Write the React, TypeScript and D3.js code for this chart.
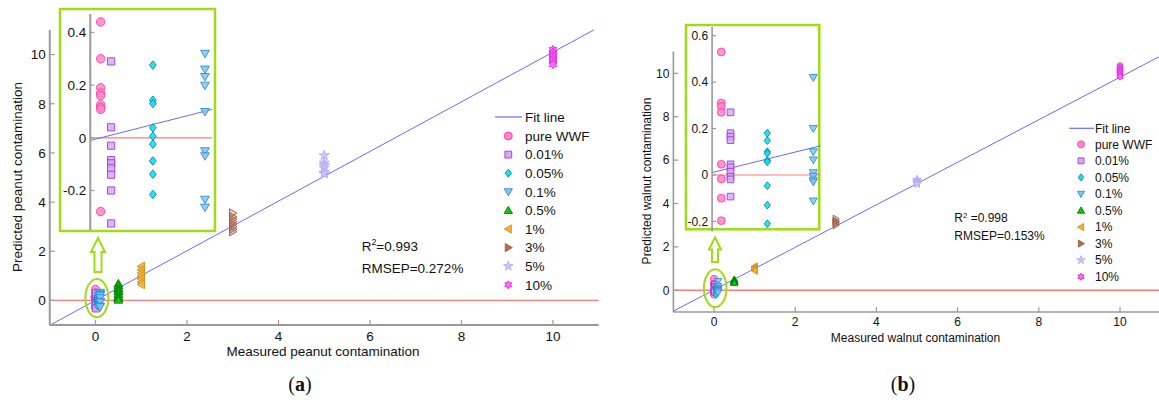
import React from 'react';
import * as d3 from 'd3';

// concentration levels and legend names
const levels = [0, 0.01, 0.05, 0.1, 0.5, 1, 3, 5, 10];
const seriesNames = ['pure WWF', '0.01%', '0.05%', '0.1%', '0.5%', '1%', '3%', '5%', '10%'];

// (a) predicted peanut contamination
const peanutPure = [0.44, 0.3, 0.19, 0.17, 0.16, 0.125, 0.115, 0.108, -0.28];
const peanut001 = [0.29, 0.04, -0.03, -0.085, -0.097, -0.116, -0.14, -0.2, -0.325];
const peanut005 = [0.276, 0.143, 0.13, 0.038, 0.006, -0.024, -0.088, -0.138, -0.215];
const peanut01 = [0.32, 0.26, 0.232, 0.199, 0.099, -0.05, -0.069, -0.234, -0.264];
const peanut05 = [0.68, 0.6, 0.5, 0.42, 0.35, 0.25, 0.15, 0.08, 0.02];
const peanut1 = [1.38, 1.25, 1.12, 1.0, 0.88, 0.75, 0.65];
const peanut3 = [3.55, 3.4, 3.3, 3.2, 3.1, 3.0, 2.9, 2.8];
const peanut5 = [5.9, 5.6, 5.5, 5.4, 5.2, 5.15];
const peanut10 = [10.2, 10.1, 10.0, 9.9, 9.8, 9.7, 9.6];
const peanutFit = [1.01, 0];
const peanutStats = ['0.993', '0.272%'];

// (b) predicted walnut contamination
const walnutPure = [0.53, 0.31, 0.295, 0.27, 0.046, -0.017, -0.1, -0.197];
const walnut001 = [0.27, 0.18, 0.165, 0.15, 0.046, 0.033, 0.014, -0.007, -0.019, -0.093];
const walnut005 = [0.18, 0.148, 0.1, 0.093, 0.062, 0.057, -0.046, -0.13, -0.21];
const walnut01 = [0.42, 0.2, 0.1, 0.065, 0.01, -0.005, -0.022, -0.03, -0.112];
const walnut05 = [0.5, 0.45, 0.42, 0.4, 0.38, 0.35];
const walnut1 = [1.1, 1.05, 1.0, 0.95, 0.9];
const walnut3 = [3.3, 3.2, 3.15, 3.1, 3.0];
const walnut5 = [5.1, 5.05, 5.0, 4.95, 4.9];
const walnut10 = [10.35, 10.25, 10.15, 10.05, 9.95, 9.85];
const walnutFit = [0.98, 0.02];
const walnutStats = ['0.998', '0.153%'];

const mainTicks = [0, 2, 4, 6, 8, 10];
const peanutInsetTicks = [-0.2, 0, 0.2, 0.4];
const walnutInsetTicks = [-0.2, 0, 0.2, 0.4, 0.6];

const styles = {
  'pure WWF': { shape: 'circle', fill: '#ff85c8', stroke: '#ff40a8', op: 0.85 },
  '0.01%': { shape: 'square', fill: '#d8a8f4', stroke: '#9a40d8', op: 0.85 },
  '0.05%': { shape: 'diamond', fill: '#12e0f0', stroke: '#0a88a8', op: 0.9 },
  '0.1%': { shape: 'triDown', fill: '#88c0f0', stroke: '#2f8fd8', op: 0.85 },
  '0.5%': { shape: 'triUp', fill: '#10c810', stroke: '#007a00', op: 0.85 },
  '1%': { shape: 'triLeft', fill: '#f2b040', stroke: '#d09018', op: 0.85 },
  '3%': { shape: 'triRight', fill: '#b86a50', stroke: '#a06048', op: 0.35 },
  '5%': { shape: 'star', fill: '#c8c4fa', stroke: '#b4acf4', op: 0.9 },
  '10%': { shape: 'hexagram', fill: '#ff70ff', stroke: '#e020e0', op: 0.85 },
};

const FONT = '"Liberation Sans", Arial, sans-serif';
const GREEN = '#9fdc14';
const AXIS = '#9a9a9a';

function shapePath(shape, s) {
  const h = s / 2;
  if (shape === 'circle') return d3.symbol(d3.symbolCircle, Math.PI * h * h)();
  if (shape === 'square') return d3.symbol(d3.symbolSquare, (s * 0.85) ** 2)();
  if (shape === 'star') return d3.symbol(d3.symbolStar, s * s * 0.45)();
  if (shape === 'diamond') return `M0,${-h}L${s * 0.4},0L0,${h}L${-s * 0.4},0Z`;
  if (shape === 'hexagram') {
    const pts = d3.range(12).map(i => {
      const a = -Math.PI / 2 + (i * Math.PI) / 6;
      const r = i % 2 === 0 ? h : h / Math.sqrt(3);
      return [r * Math.cos(a), r * Math.sin(a)];
    });
    return d3.line()(pts) + 'Z';
  }
  // triangle pointing up, rotated by transform for the others
  return `M0,${-s * 0.5}L${s * 0.52},${s * 0.38}L${-s * 0.52},${s * 0.38}Z`;
}

const rotation = { triDown: 180, triLeft: -90, triRight: 90 };

function Marker({ name, x, y, s, solid }) {
  const st = styles[name];
  const rot = rotation[st.shape] || 0;
  return (
    <path
      d={shapePath(st.shape, s)}
      transform={`translate(${x},${y}) rotate(${rot})`}
      fill={st.fill}
      fillOpacity={solid ? 1 : st.op}
      stroke={st.stroke}
      strokeWidth={0.9}
    />
  );
}

function Panel({ cfg, series, fit, stats, insetTicks, xLabel, yLabel, tag }) {
  const x = d3.scaleLinear().domain([-1, 11]).range(cfg.xRange);
  const y = d3.scaleLinear().domain([-1, 11]).range(cfg.yRange);
  const ix = d3.scaleLinear().domain(cfg.insetXDomain).range(cfg.insetXRange);
  const iy = d3.scaleLinear().domain(cfg.insetYDomain).range(cfg.insetYRange);
  const fitY = v => fit[0] * v + fit[1];
  const fs = cfg.font;
  const line = d3.line();

  // fit line clipped to the plot square
  const xEnd = Math.min(11, (11 - fit[1]) / fit[0]);
  const fitMain = line([[x(-1), y(fitY(-1))], [x(xEnd), y(fitY(xEnd))]]);
  const ixEnd = cfg.insetLineEnd;
  const fitInset = line([[ix(-0.01), iy(fitY(-0.01))], [ix(ixEnd), iy(fitY(ixEnd))]]);

  const [bx0, by0, bx1, by1] = cfg.box;
  const ar = cfg.arrow;
  const arrowPts = [
    [ar.cx, ar.tip], [ar.cx + ar.hw, ar.tip + ar.hh], [ar.cx + ar.sw, ar.tip + ar.hh],
    [ar.cx + ar.sw, ar.bottom], [ar.cx - ar.sw, ar.bottom], [ar.cx - ar.sw, ar.tip + ar.hh],
    [ar.cx - ar.hw, ar.tip + ar.hh],
  ];

  return (
    <g fontFamily={FONT} fill="#111">
      {/* main axes */}
      <line x1={x(-1)} x2={x(11)} y1={y(0)} y2={y(0)} stroke="#ff7a7a" strokeWidth={1.4} />
      <path d={fitMain} stroke="#6a6aff" strokeWidth={1} fill="none" />
      <line x1={x(-1)} x2={x(11)} y1={y(-1)} y2={y(-1)} stroke={AXIS} strokeWidth={cfg.axisW} />
      <line x1={x(-1)} x2={x(-1)} y1={y(-1)} y2={y(11)} stroke={AXIS} strokeWidth={cfg.axisW} />
      {mainTicks.map(t => (
        <g key={'xt' + t}>
          <line x1={x(t)} x2={x(t)} y1={y(-1)} y2={y(-1) - 5} stroke={AXIS} strokeWidth={1.2} />
          <text x={x(t)} y={y(-1) + cfg.xTickDy} textAnchor="middle" fontSize={fs}>{t}</text>
        </g>
      ))}
      {mainTicks.map(t => (
        <g key={'yt' + t}>
          <line x1={x(-1)} x2={x(-1) + 5} y1={y(t)} y2={y(t)} stroke={AXIS} strokeWidth={1.2} />
          <text x={x(-1) - 4} y={y(t) + fs * 0.36} textAnchor="end" fontSize={fs}>{t}</text>
        </g>
      ))}
      <text x={cfg.xLabel[0]} y={cfg.xLabel[1]} textAnchor="middle" fontSize={fs}>{xLabel}</text>
      <text transform={`translate(${cfg.yLabel[0]},${cfg.yLabel[1]}) rotate(-90)`} textAnchor="middle" fontSize={fs}>{yLabel}</text>

      {/* main markers */}
      {series.map((vals, i) => vals.map((v, j) => (
        <Marker key={`m${i}-${j}`} name={seriesNames[i]} x={x(levels[i])} y={y(v)} s={cfg.markMain} />
      )))}

      {/* callout */}
      <ellipse cx={x(0.03)} cy={y(0.1)} rx={cfg.ell[0]} ry={cfg.ell[1]} fill="none" stroke={GREEN} strokeWidth={2} />
      <path d={line(arrowPts) + 'Z'} fill="#fff" stroke={GREEN} strokeWidth={2} />

      {/* inset */}
      <rect x={bx0} y={by0} width={bx1 - bx0} height={by1 - by0} fill="#fff" stroke={GREEN} strokeWidth={2.5} />
      <line x1={ix(-0.01)} x2={ix(ixEnd)} y1={iy(0)} y2={iy(0)} stroke="#ff7a7a" strokeWidth={1.2} />
      <path d={fitInset} stroke="#6a6aff" strokeWidth={1} fill="none" />
      <line x1={ix(-0.01)} x2={ix(-0.01)} y1={cfg.insetYRange[0]} y2={cfg.insetYRange[1]} stroke={AXIS} strokeWidth={cfg.axisW} />
      {insetTicks.map(t => (
        <g key={'it' + t}>
          <line x1={ix(-0.01)} x2={ix(-0.01) + 4} y1={iy(t)} y2={iy(t)} stroke={AXIS} strokeWidth={1.2} />
          <text x={ix(-0.01) - 4} y={iy(t) + fs * 0.36} textAnchor="end" fontSize={fs}>{t}</text>
        </g>
      ))}
      {series.slice(0, 4).map((vals, i) => vals.map((v, j) => (
        <Marker key={`i${i}-${j}`} name={seriesNames[i]} x={ix(levels[i])} y={iy(v)} s={cfg.markInset} />
      )))}

      {/* legend */}
      <line x1={cfg.leg.line[0]} x2={cfg.leg.line[1]} y1={cfg.leg.y0} y2={cfg.leg.y0} stroke="#6a6aff" strokeWidth={1.2} />
      <text x={cfg.leg.tx} y={cfg.leg.y0 + fs * 0.36} fontSize={fs}>Fit line</text>
      {seriesNames.map((n, i) => {
        const ry = cfg.leg.y1 + i * cfg.leg.dy;
        return (
          <g key={'lg' + n}>
            <Marker name={n} x={cfg.leg.mx} y={ry} s={cfg.markLeg} solid />
            <text x={cfg.leg.tx} y={ry + fs * 0.36} fontSize={fs}>{n}</text>
          </g>
        );
      })}

      {/* statistics */}
      <text x={cfg.stats[0]} y={cfg.stats[1]} fontSize={fs}>
        R<tspan dy={-fs * 0.4} fontSize={fs * 0.65}>2</tspan>
        <tspan dy={fs * 0.4}>{cfg.r2Gap}=</tspan>{stats[0]}
      </text>
      <text x={cfg.stats[0]} y={cfg.stats[2]} fontSize={fs}>RMSEP={stats[1]}</text>

      <text x={cfg.tag[0]} y={cfg.tag[1]} textAnchor="middle" fontSize={20} fontFamily='"Liberation Serif", "Times New Roman", serif'>
        (<tspan fontWeight="bold">{tag}</tspan>)
      </text>
    </g>
  );
}

const leftCfg = {
  xRange: [49.75, 598.75], yRange: [325, 30], font: 13.5, axisW: 2, xTickDy: 15.5,
  xLabel: [323, 355.5], yLabel: [22, 177], markMain: 8.5, markInset: 8.5, markLeg: 8,
  box: [60, 9, 215, 231],
  insetXDomain: [0, 0.1], insetXRange: [100.7, 205], insetLineEnd: 0.107,
  insetYDomain: [-0.35, 0.47], insetYRange: [230, 14],
  ell: [11.5, 19], arrow: { cx: 98, tip: 238, bottom: 272, hw: 7, hh: 14, sw: 3.5 },
  leg: { line: [495, 522], y0: 117, y1: 136, dy: 18.6, mx: 508.3, tx: 525 },
  stats: [361.7, 250.7, 273.3], r2Gap: '', tag: [300, 391],
};

const rightCfg = {
  xRange: [673.4, 1160.6], yRange: [312, 51.6], font: 12, axisW: 1.6, xTickDy: 14,
  xLabel: [915.5, 341.5], yLabel: [651, 181], markMain: 7, markInset: 7.8, markLeg: 7,
  box: [686, 25, 819.3, 229.3],
  insetXDomain: [0, 0.1], insetXRange: [721.3, 813.3], insetLineEnd: 0.108,
  insetYDomain: [-0.2435, 0.6375], insetYRange: [231.5, 27],
  ell: [11.3, 19], arrow: { cx: 715, tip: 237.5, bottom: 262, hw: 6, hh: 12, sw: 3 },
  leg: { line: [1069.3, 1094], y0: 128.3, y1: 144.3, dy: 16.55, mx: 1081, tx: 1095 },
  stats: [954.3, 222.3, 240], r2Gap: ' ', tag: [903, 391],
};

export default function App() {
  const peanutSeries = [peanutPure, peanut001, peanut005, peanut01, peanut05, peanut1, peanut3, peanut5, peanut10];
  const walnutSeries = [walnutPure, walnut001, walnut005, walnut01, walnut05, walnut1, walnut3, walnut5, walnut10];
  return (
    <div style={{ position: 'absolute', left: 0, top: 0 }}>
      <svg width={1159} height={407} style={{ display: 'block', background: '#fff' }}>
        <Panel cfg={leftCfg} series={peanutSeries} fit={peanutFit} stats={peanutStats}
          insetTicks={peanutInsetTicks} xLabel="Measured peanut contamination"
          yLabel="Predicted peanut contamination" tag="a" />
        <Panel cfg={rightCfg} series={walnutSeries} fit={walnutFit} stats={walnutStats}
          insetTicks={walnutInsetTicks} xLabel="Measured walnut contamination"
          yLabel="Predicted walnut contamination" tag="b" />
      </svg>
    </div>
  );
}
